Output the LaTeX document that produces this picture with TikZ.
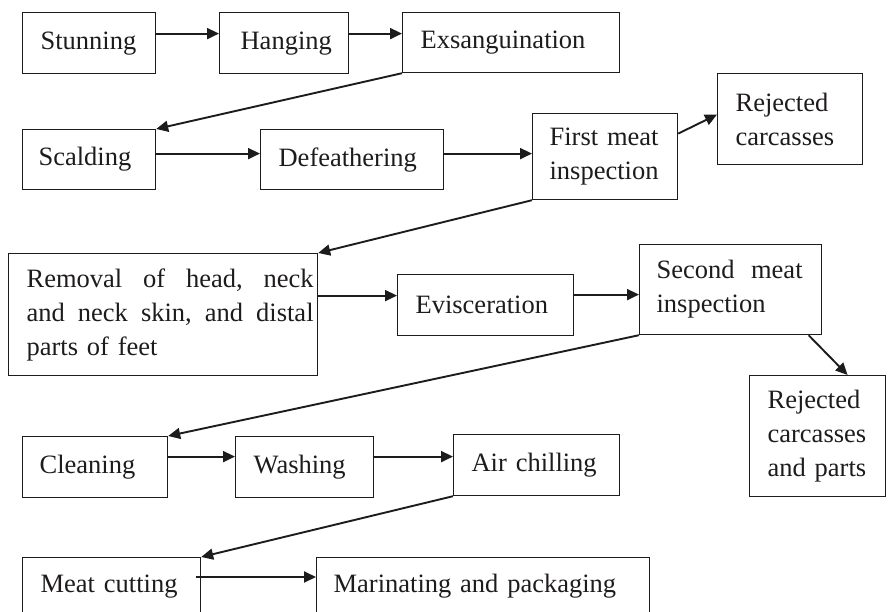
\documentclass[tikz,border=0pt]{standalone}
\usepackage{fontspec}
\setmainfont{Liberation Serif}
\usetikzlibrary{arrows.meta}
\definecolor{ink}{RGB}{30,27,28}
\hyphenpenalty=10000
\begin{document}
\begin{tikzpicture}[x=1pt,y=-1pt,
  box/.style={draw=ink, line width=1.2pt, anchor=north west, inner xsep=18pt, inner ysep=0pt,
    align=left, text=ink, font=\fontsize{26.5}{34}\selectfont},
  flow/.style={draw=ink, line width=1.9pt, -{Triangle[length=12pt,width=11pt]}}]
\useasboundingbox (0,0) rectangle (888,612);
\clip (0,0) rectangle (888,612);

% row 1
\node[box, text width=97pt, minimum height=61pt] (stun) at (22,12) {Stunning};
\node[box, inner xsep=21pt, text width=87pt, minimum height=61pt] (hang) at (219,12) {Hanging};
\node[box, text width=181pt, minimum height=60pt] (exs) at (402,12) {Exsanguination};

% row 2
\node[box, inner xsep=16pt, text width=101pt, minimum height=60pt] (scal) at (22,129) {Scalding};
\node[box, text width=147pt, minimum height=60pt] (def) at (260,129) {Defeathering};
\node[box, inner xsep=17pt, text width=111pt, minimum height=86pt] (fmi) at (532,113) {\mbox{First meat}\\inspection};
\node[box, text width=109pt, minimum height=91pt] (rej1) at (717,73) {Rejected\\carcasses};

% row 3
\node[box, inner xsep=4pt, text width=301pt, minimum height=122pt, align=right] (rem) at (8,253)
  {\makebox[287pt][l]{Removal\hfill of\hfill head,\hfill neck}\\\makebox[287pt][l]{and\hfill neck\hfill skin,\hfill and\hfill distal}\\\makebox[287pt][l]{parts of feet}};
\node[box, text width=140pt, minimum height=61pt] (evi) at (397,274) {Evisceration};
\node[box, inner xsep=17pt, text width=148pt, minimum height=90pt] (smi) at (639,244) {\makebox[146pt][l]{Second\hfill meat}\\inspection};
\node[box, text width=100pt, minimum height=121pt] (rej2) at (749,375) {Rejected\\carcasses\\\mbox{and parts}};

% row 4
\node[box, inner xsep=17pt, text width=111pt, minimum height=61pt] (cle) at (22,436) {Cleaning};
\node[box, text width=102pt, minimum height=61pt] (was) at (235,436) {Washing};
\node[box, text width=130pt, minimum height=61pt] (air) at (453,434) {\mbox{Air chilling}};

% row 5
\node[box, text width=142pt, minimum height=58pt] (meat) at (22,557) {\mbox{Meat cutting}};
\node[box, inner xsep=17pt, text width=299pt, minimum height=58pt] (mar) at (316,557) {\mbox{Marinating and packaging}};

% connectors
\draw[flow] ([yshift=9.5pt]stun.east) -- ([yshift=9.5pt]hang.west);
\draw[flow] ([yshift=9.5pt]hang.east) -- ([yshift=9pt]exs.west);
\draw[flow] (exs.south west) -- (scal.north east);
\draw[flow] ([yshift=6pt]scal.east) -- ([yshift=6pt]def.west);
\draw[flow] ([yshift=6pt]def.east) -- ([yshift=3pt]fmi.west);
\draw[flow] ([yshift=23pt]fmi.east) -- ([yshift=4.5pt]rej1.west);
\draw[flow] (fmi.south west) -- (rem.north east);
\draw[flow] ([yshift=19pt]rem.east) -- ([yshift=9.5pt]evi.west);
\draw[flow] ([yshift=10.5pt]evi.east) -- ([yshift=-5pt]smi.west);
\draw[flow] ([xshift=78pt]smi.south) -- ([xshift=30pt]rej2.north);
\draw[flow] (smi.south west) -- (cle.north east);
\draw[flow] ([yshift=10.5pt]cle.east) -- ([yshift=10.5pt]was.west);
\draw[flow] ([yshift=10.5pt]was.east) -- ([yshift=8.5pt]air.west);
\draw[flow] (air.south west) -- (meat.north east);
\draw[flow] ([xshift=-5pt,yshift=-20pt]meat.north east) -- ([yshift=-20pt]mar.north west);
\end{tikzpicture}
\end{document}
